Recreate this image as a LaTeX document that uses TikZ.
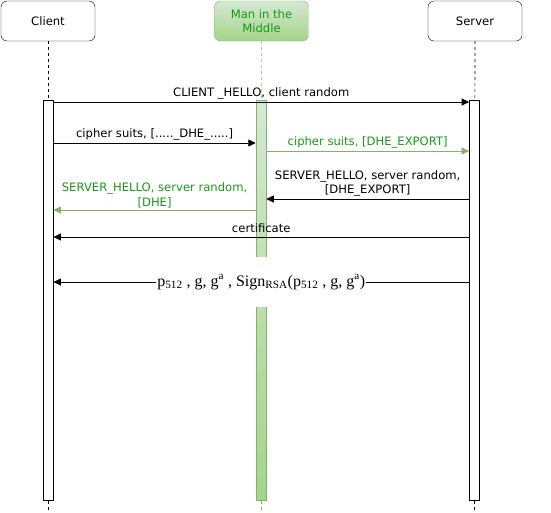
\documentclass[tikz,border=0pt]{standalone}
\usepackage{fontspec}
\setmainfont{DejaVu Sans}
\newfontfamily\tms{Liberation Serif}
\usepackage{xcolor}
\usetikzlibrary{arrows.meta,positioning,shapes.geometric}
\definecolor{mgreen}{HTML}{82B366}
\definecolor{mtext}{HTML}{169A16}
\definecolor{mlight}{HTML}{D5E8D4}
\definecolor{mdark}{HTML}{97D077}

\begin{document}
\begin{tikzpicture}[
            x=1pt,y=-1pt,
            font=\fontsize{11.6}{14.5}\selectfont,
            actor/.style={draw,rounded corners=6pt,minimum width=94pt,minimum height=40pt,align=center,inner sep=1pt},
            mitmstyle/.style={draw=mgreen,top color=mlight,bottom color=mdark!80!mlight,text=mtext},
            act/.style={draw,line width=0.8pt,fill=white,minimum width=10pt,minimum height=400pt,inner sep=0pt,anchor=north},
            life/.style={dashed,dash pattern=on 3pt off 3pt,line width=0.7pt},
            msg/.style={->,line width=0.8pt},
            gmsg/.style={->,line width=0.8pt,draw=mgreen,mgreen},
            lbl/.style={above,inner sep=2pt,align=center},
            >={Triangle[length=7.5pt,width=7pt]}
        ]
        \useasboundingbox (0,0) rectangle (551,512);

        % Draw heads %
        \node[actor] (client) at (48,21) {Client};
        \node[actor,mitmstyle] (mitm) at (261.5,21) {Man in the\\Middle};
        \node[actor] (server) at (475,21) {Server};

        % Draw bars %
        \node[act] (cbar) at (48,100) {};
        \node[act,mitmstyle,line width=0.5pt] (mbar) at (261,100) {};
        \node[act] (sbar) at (474.5,100) {};

        % Draw lifelines %
        \coordinate (cend) at (48,512);
        \coordinate (mend) at (261,512);
        \coordinate (send) at (474.5,512);
        \draw[life] (client) -- (cbar);
        \draw[life] (cbar) -- (cend);
        \draw[life,mgreen,line width=0.5pt] (mitm) -- (mbar);
        \draw[life,mgreen,line width=0.5pt] (mbar) -- (mend);
        \draw[life] (server) -- (sbar);
        \draw[life] (sbar) -- (send);

        % Message heights %
        \coordinate (m1) at (0,102);
        \coordinate (m2) at (0,143);
        \coordinate (m3) at (0,151);
        \coordinate (m4) at (0,199);
        \coordinate (m5) at (0,210);
        \coordinate (m6) at (0,237);
        \coordinate (m7) at (0,282);

        % Draw messages %
        \draw[msg] (cbar.east |- m1) -- node[lbl] {CLIENT \_HELLO, client random} (sbar.west |- m1);
        \draw[msg] (cbar.east |- m2) -- node[lbl] {cipher suits, [.....\_DHE\_.....]} (mbar.west |- m2);
        \draw[gmsg] (mbar.east |- m3) -- node[lbl,text=mtext] {cipher suits, [DHE\_EXPORT]} (sbar.west |- m3);
        \draw[msg] (sbar.west |- m4) -- node[lbl] {SERVER\_HELLO, server random,\\\relax [DHE\_EXPORT]} (mbar.east |- m4);
        \draw[gmsg] (mbar.west |- m5) -- node[lbl,text=mtext] {SERVER\_HELLO, server random,\\\relax [DHE]} (cbar.east |- m5);
        \draw[msg] (sbar.west |- m6) -- node[lbl,inner sep=3.5pt] {certificate} (cbar.east |- m6);
        \draw[msg] (sbar.west |- m7) -- node[fill=white,inner xsep=1pt,minimum height=50pt,
            font=\tms\fontsize{16}{18}\selectfont]
            {p\textsubscript{512} , g, g\textsuperscript{a} , Sign\textsubscript{RSA}(p\textsubscript{512} , g, g\textsuperscript{a})} (cbar.east |- m7);
\end{tikzpicture}
\end{document}
